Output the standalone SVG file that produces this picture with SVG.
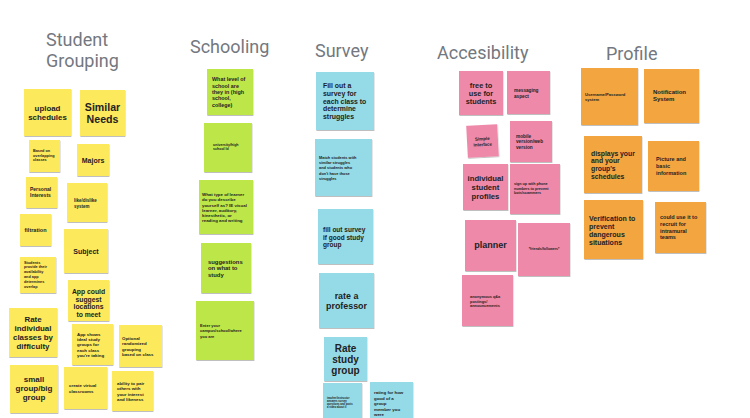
<svg xmlns="http://www.w3.org/2000/svg" width="750" height="418" viewBox="0 0 750 418">
  <defs>
    <filter id="shadow" x="-10%" y="-10%" width="130%" height="130%">
      <feDropShadow dx="0.4" dy="1" stdDeviation="0.7" flood-color="#000" flood-opacity="0.25"/>
    </filter>
    <style>
      .title { font-family: Roboto, "Liberation Sans", sans-serif; font-size: 18px; fill: #737880; }
      .note rect { filter: url(#shadow); }
      .y { fill: #fde95c; }
      .g { fill: #bde74a; }
      .b { fill: #94dbe7; }
      .p { fill: #ef89aa; }
      .o { fill: #f3a53f; }
      text.t { font-family: "Liberation Sans", Arial, sans-serif; font-weight: 700; fill: #222222; dominant-baseline: central; }
      text.c { text-anchor: middle; }
    </style>
  </defs>

  <rect width="750" height="418" fill="#ffffff"/>

  <!-- column headings -->
  <g id="headings">
    <text class="title" x="46" y="46">Student</text>
    <text class="title" x="46" y="67">Grouping</text>
    <text class="title" x="190" y="53">Schooling</text>
    <text class="title" x="315" y="57">Survey</text>
    <text class="title" x="437" y="59">Accesibility</text>
    <text class="title" x="606" y="60">Profile</text>
  </g>

  <!-- Student Grouping -->
  <g id="upload-schedules" class="note">
    <rect class="y" x="24" y="89" width="47" height="47"/>
    <text class="t c" x="47.5" font-size="7.9"><tspan x="47.5" y="108">upload</tspan><tspan x="47.5" y="117">schedules</tspan></text>
  </g>
  <g id="similar-needs" class="note">
    <rect class="y" x="80" y="90" width="45" height="46"/>
    <text class="t c" x="102.5" font-size="10.6"><tspan x="102.5" y="107">Similar</tspan><tspan x="102.5" y="119">Needs</tspan></text>
  </g>
  <g id="overlapping-classes" class="note">
    <rect class="y" x="29" y="140" width="31" height="32"/>
    <text class="t" font-size="3.8"><tspan x="33" y="151">Based on</tspan><tspan x="33" y="155.5">overlapping</tspan><tspan x="33" y="160">classes</tspan></text>
  </g>
  <g id="majors" class="note">
    <rect class="y" x="77" y="144" width="32" height="32"/>
    <text class="t c" x="93" y="160" font-size="7">Majors</text>
  </g>
  <g id="personal-interests" class="note">
    <rect class="y" x="26" y="177" width="31" height="31"/>
    <text class="t" font-size="5"><tspan x="30" y="189">Personal</tspan><tspan x="30" y="195">Interests</tspan></text>
  </g>
  <g id="like-dislike" class="note">
    <rect class="y" x="67" y="183" width="40" height="39"/>
    <text class="t" font-size="4.5"><tspan x="74" y="200">like/dislike</tspan><tspan x="74" y="206">system</tspan></text>
  </g>
  <g id="filtration" class="note">
    <rect class="y" x="20" y="214" width="31" height="32"/>
    <text class="t c" x="35.5" y="230" font-size="5.5">filtration</text>
  </g>
  <g id="subject" class="note">
    <rect class="y" x="64" y="229" width="44" height="44"/>
    <text class="t c" x="86" y="251" font-size="7">Subject</text>
  </g>
  <g id="availability" class="note">
    <rect class="y" x="20" y="257" width="36" height="36"/>
    <text class="t" font-size="3.8"><tspan x="24" y="262.7">Students</tspan><tspan x="24" y="267.4">provide their</tspan><tspan x="24" y="272.2">availability</tspan><tspan x="24" y="277.2">and app</tspan><tspan x="24" y="282.1">determines</tspan><tspan x="24" y="287">overlap</tspan></text>
  </g>
  <g id="suggest-locations" class="note">
    <rect class="y" x="68" y="280" width="41" height="41"/>
    <text class="t c" x="88.5" font-size="6.8"><tspan x="88.5" y="290.7">App could</tspan><tspan x="88.5" y="298.5">suggest</tspan><tspan x="88.5" y="306.2">locations</tspan><tspan x="88.5" y="313.9">to meet</tspan></text>
  </g>
  <g id="rate-classes" class="note">
    <rect class="y" x="9" y="308" width="48" height="49"/>
    <text class="t c" x="33" font-size="7.9"><tspan x="33" y="319.3">Rate</tspan><tspan x="33" y="328.3">individual</tspan><tspan x="33" y="337.2">classes by</tspan><tspan x="33" y="346.1">difficulty</tspan></text>
  </g>
  <g id="ideal-groups" class="note">
    <rect class="y" x="72" y="324" width="41" height="41"/>
    <text class="t" font-size="4.4"><tspan x="77" y="333.7">App shows</tspan><tspan x="77" y="339">ideal study</tspan><tspan x="77" y="344.4">groups for</tspan><tspan x="77" y="349.9">each class</tspan><tspan x="77" y="355.3">you're taking</tspan></text>
  </g>
  <g id="randomized-grouping" class="note">
    <rect class="y" x="119" y="325" width="43" height="42"/>
    <text class="t" font-size="4.4"><tspan x="122" y="337.7">Optional</tspan><tspan x="122" y="343.1">randomized</tspan><tspan x="122" y="348.6">grouping</tspan><tspan x="122" y="354.2">based on class</tspan></text>
  </g>
  <g id="group-size" class="note">
    <rect class="y" x="10" y="365" width="48" height="48"/>
    <text class="t c" x="34" font-size="8"><tspan x="34" y="379.3">small</tspan><tspan x="34" y="388.3">group/big</tspan><tspan x="34" y="397.3">group</tspan></text>
  </g>
  <g id="virtual-classrooms" class="note">
    <rect class="y" x="64" y="367" width="43" height="42"/>
    <text class="t" font-size="4.4"><tspan x="69" y="385.3">create virtual</tspan><tspan x="69" y="391">classrooms</tspan></text>
  </g>
  <g id="pair-others" class="note">
    <rect class="y" x="112" y="371" width="41" height="40"/>
    <text class="t" font-size="4.4"><tspan x="117" y="382.7">ability to pair</tspan><tspan x="117" y="388.1">others with</tspan><tspan x="117" y="393.6">your interest</tspan><tspan x="117" y="399">and likeness</tspan></text>
  </g>

  <!-- Schooling -->
  <g id="school-level" class="note">
    <rect class="g" x="207" y="69" width="46" height="46"/>
    <text class="t" font-size="5.4"><tspan x="212" y="79.3">What level of</tspan><tspan x="212" y="85.6">school are</tspan><tspan x="212" y="91.9">they in (high</tspan><tspan x="212" y="98.2">school,</tspan><tspan x="212" y="104.5">college)</tspan></text>
  </g>
  <g id="school-id" class="note">
    <rect class="g" x="204" y="123" width="48" height="49"/>
    <text class="t" font-size="3.6"><tspan x="213" y="145">university/high</tspan><tspan x="213" y="149.4">school Id</tspan></text>
  </g>
  <g id="learner-type" class="note">
    <rect class="g" x="199" y="180" width="54" height="54"/>
    <text class="t" font-size="4.4"><tspan x="202" y="194">What type of learner</tspan><tspan x="202" y="199.3">do you describe</tspan><tspan x="202" y="204.6">yourself as? IE visual</tspan><tspan x="202" y="209.9">learner, auditory,</tspan><tspan x="202" y="215.1">kinesthetic, or</tspan><tspan x="202" y="220.4">reading and writing</tspan></text>
  </g>
  <g id="study-suggestions" class="note">
    <rect class="g" x="201" y="243" width="50" height="50"/>
    <text class="t" font-size="5.9"><tspan x="208" y="261.7">suggestions</tspan><tspan x="208" y="268.4">on what to</tspan><tspan x="208" y="275.1">study</tspan></text>
  </g>
  <g id="campus" class="note">
    <rect class="g" x="196" y="301" width="58" height="59"/>
    <text class="t" font-size="4"><tspan x="200" y="325">Enter your</tspan><tspan x="200" y="330.2">campus/school/where</tspan><tspan x="200" y="335.6">you are</tspan></text>
  </g>

  <!-- Survey -->
  <g id="class-survey" class="note">
    <rect class="b" x="316" y="72" width="58" height="58"/>
    <text class="t" font-size="6.9"><tspan x="323" y="85">Fill out a</tspan><tspan x="323" y="92.8">survey for</tspan><tspan x="323" y="100.6">each class to</tspan><tspan x="323" y="108.4">determine</tspan><tspan x="323" y="116.2">struggles</tspan></text>
  </g>
  <g id="match-students" class="note">
    <rect class="b" x="315" y="139" width="57" height="57"/>
    <text class="t" font-size="3.9"><tspan x="319" y="156.7">Match students with</tspan><tspan x="319" y="162">similar struggles</tspan><tspan x="319" y="167.3">and students who</tspan><tspan x="319" y="172.6">don't have those</tspan><tspan x="319" y="177.8">struggles</tspan></text>
  </g>
  <g id="group-survey" class="note">
    <rect class="b" x="318" y="209" width="55" height="55"/>
    <text class="t" font-size="6.5"><tspan x="323" y="229.3">fill out survey</tspan><tspan x="323" y="236.7">if good study</tspan><tspan x="323" y="244.1">group</tspan></text>
  </g>
  <g id="rate-professor" class="note">
    <rect class="b" x="319" y="273" width="55" height="55"/>
    <text class="t c" x="346.5" font-size="8.9"><tspan x="346.5" y="296">rate a</tspan><tspan x="346.5" y="306">professor</tspan></text>
  </g>
  <g id="rate-group" class="note">
    <rect class="b" x="324" y="337" width="43" height="44"/>
    <text class="t c" x="345.5" font-size="10"><tspan x="345.5" y="347.7">Rate</tspan><tspan x="345.5" y="359">study</tspan><tspan x="345.5" y="370.3">group</tspan></text>
  </g>
  <g id="instructor-video" class="note">
    <rect class="b" x="323" y="383" width="39" height="40"/>
    <text class="t" font-size="2.65"><tspan x="327" y="397.7">teacher/instructor</tspan><tspan x="327" y="400.7">answers survey</tspan><tspan x="327" y="403.7">questions and posts</tspan><tspan x="327" y="406.8">a video about it</tspan></text>
  </g>
  <g id="member-rating" class="note">
    <rect class="b" x="370" y="382" width="43" height="41"/>
    <text class="t" font-size="4.4"><tspan x="374" y="392.3">rating for how</tspan><tspan x="374" y="397.7">good of a</tspan><tspan x="374" y="403">group</tspan><tspan x="374" y="408.6">member you</tspan><tspan x="374" y="414.2">were</tspan></text>
  </g>

  <!-- Accesibility -->
  <g id="free" class="note">
    <rect class="p" x="459" y="71" width="44" height="44"/>
    <text class="t c" x="481" font-size="7.3"><tspan x="481" y="85">free to</tspan><tspan x="481" y="93.2">use for</tspan><tspan x="481" y="101.4">students</tspan></text>
  </g>
  <g id="messaging" class="note">
    <rect class="p" x="507" y="71" width="43" height="43"/>
    <text class="t" font-size="4.7"><tspan x="514" y="90">messaging</tspan><tspan x="514" y="95.7">aspect</tspan></text>
  </g>
  <g id="simple-interface" class="note" transform="rotate(-3 482.5 141)">
    <rect class="p" x="467" y="125" width="31" height="32"/>
    <text class="t c" x="482.5" font-size="4.5"><tspan x="482.5" y="138.3">Simple</tspan><tspan x="482.5" y="144.1">interface</tspan></text>
  </g>
  <g id="mobile-web" class="note">
    <rect class="p" x="510" y="121" width="42" height="41"/>
    <text class="t" font-size="4.7"><tspan x="516" y="135.7">mobile</tspan><tspan x="516" y="141.1">version/web</tspan><tspan x="516" y="146.6">version</tspan></text>
  </g>
  <g id="student-profiles" class="note">
    <rect class="p" x="463" y="164" width="45" height="46"/>
    <text class="t c" x="485.5" font-size="7.7"><tspan x="485.5" y="178.3">individual</tspan><tspan x="485.5" y="187">student</tspan><tspan x="485.5" y="195.7">profiles</tspan></text>
  </g>
  <g id="phone-signup" class="note">
    <rect class="p" x="510" y="164" width="50" height="50"/>
    <text class="t" font-size="3.7"><tspan x="514" y="184">sign up with phone</tspan><tspan x="514" y="188.7">numbers to prevent</tspan><tspan x="514" y="193.4">bots/scammers</tspan></text>
  </g>
  <g id="planner" class="note">
    <rect class="p" x="465" y="220" width="51" height="51"/>
    <text class="t c" x="490.5" y="245" font-size="9">planner</text>
  </g>
  <g id="friends" class="note">
    <rect class="p" x="518" y="223" width="52" height="53"/>
    <text class="t c" x="544" y="249" font-size="3.5">*friends/followers*</text>
  </g>
  <g id="anonymous-qa" class="note">
    <rect class="p" x="462" y="275" width="51" height="51"/>
    <text class="t" font-size="3.9"><tspan x="470" y="296">anonymous q&amp;a</tspan><tspan x="470" y="300.7">postings/</tspan><tspan x="470" y="305.4">announcements</tspan></text>
  </g>

  <!-- Profile -->
  <g id="login" class="note">
    <rect class="o" x="581" y="68" width="57" height="57"/>
    <text class="t" font-size="4.1"><tspan x="585" y="93.7">Username/Password</tspan><tspan x="585" y="99">system</tspan></text>
  </g>
  <g id="notifications" class="note">
    <rect class="o" x="644" y="69" width="55" height="54"/>
    <text class="t" font-size="6"><tspan x="653" y="92.3">Notification</tspan><tspan x="653" y="99.3">System</tspan></text>
  </g>
  <g id="schedules" class="note">
    <rect class="o" x="584" y="136" width="58" height="57"/>
    <text class="t" font-size="6.8"><tspan x="591" y="152.7">displays your</tspan><tspan x="591" y="160.4">and your</tspan><tspan x="591" y="168.1">group's</tspan><tspan x="591" y="175.8">schedules</tspan></text>
  </g>
  <g id="picture-info" class="note">
    <rect class="o" x="648" y="141" width="51" height="50"/>
    <text class="t" font-size="5.5"><tspan x="656" y="159.3">Picture and</tspan><tspan x="656" y="166">basic</tspan><tspan x="656" y="172.7">information</tspan></text>
  </g>
  <g id="verification" class="note">
    <rect class="o" x="584" y="200" width="59" height="59"/>
    <text class="t" font-size="7"><tspan x="589" y="217.7">Verification to</tspan><tspan x="589" y="225.7">prevent</tspan><tspan x="589" y="233.7">dangerous</tspan><tspan x="589" y="241.7">situations</tspan></text>
  </g>
  <g id="intramural" class="note">
    <rect class="o" x="655" y="202" width="51" height="51"/>
    <text class="t" font-size="5.5"><tspan x="660" y="217.3">could use it to</tspan><tspan x="660" y="224">recruit for</tspan><tspan x="660" y="230.7">intramural</tspan><tspan x="660" y="237.3">teams</tspan></text>
  </g>
</svg>
